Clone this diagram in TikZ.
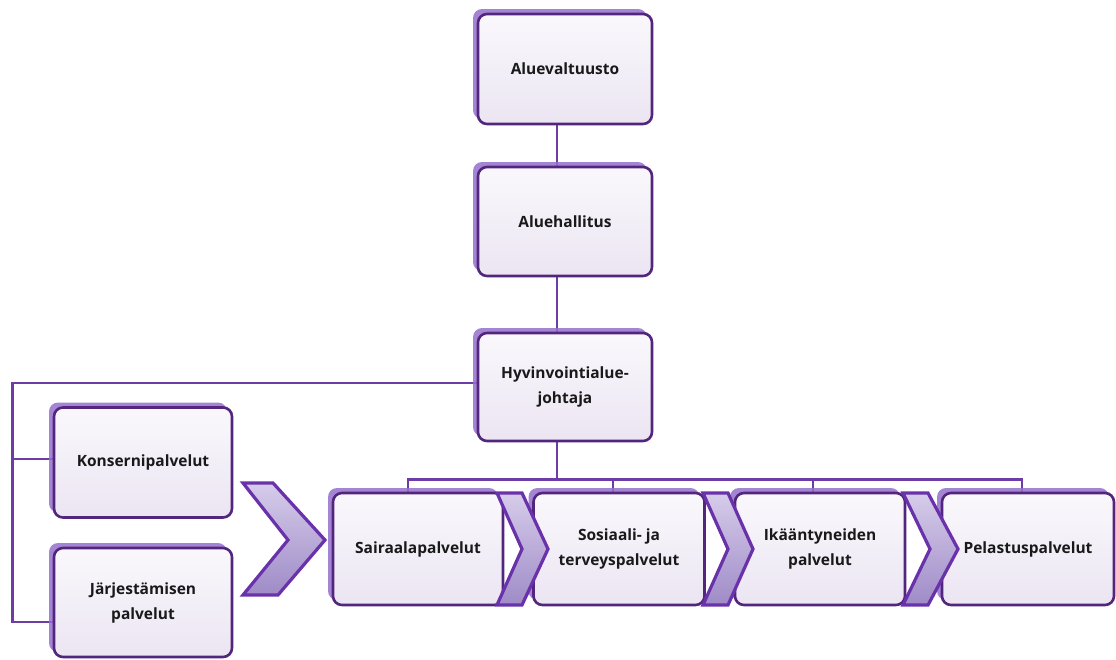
\documentclass[tikz,border=0pt]{standalone}
\usepackage{fontspec}
\setmainfont{Open Sans}
\usetikzlibrary{shadows,backgrounds}
\definecolor{edgecol}{HTML}{52267D}
\definecolor{linecol}{HTML}{6E3CA6}
\definecolor{shcol}{HTML}{9470CC}
\definecolor{filltop}{HTML}{FAF8FC}
\definecolor{fillbot}{HTML}{EBE5F2}
\definecolor{chevtop}{HTML}{D6CCEA}
\definecolor{chevbot}{HTML}{9F8BC7}
\definecolor{chevedge}{HTML}{6A32AA}
\tikzset{
  orgbox/.style={draw=edgecol, line width=2.6pt, rounded corners=9pt,
    top color=filltop, bottom color=fillbot, align=center,
    font=\fontsize{15.5pt}{25pt}\selectfont\bfseries, text=black!90,
    general shadow={fill=shcol, shadow xshift=-5pt, shadow yshift=5pt, opacity=0.85}},
  conn/.style={draw=linecol, line width=2.8pt},
  chev/.style={draw=chevedge, line width=3.2pt, line join=miter,
    top color=chevtop, bottom color=chevbot}
}
\begin{document}
\begin{tikzpicture}[x=1pt,y=-1pt]
\useasboundingbox (0,0) rectangle (1116,659);
\node[orgbox, minimum width=174pt, minimum height=110pt] (a) at (565,69) {Aluevaltuusto};
\node[orgbox, minimum width=174pt, minimum height=109pt] (b) at (565,221.5) {Aluehallitus};
\node[orgbox, minimum width=174pt, minimum height=108pt] (c) at (565,387) {Hyvinvointialue-\\johtaja};
\node[orgbox, minimum width=178pt, minimum height=110pt] (k) at (143,462.5) {Konsernipalvelut};
\node[orgbox, minimum width=178pt, minimum height=109pt] (j) at (143,602.5) {Järjestämisen\\palvelut};
\node[orgbox, minimum width=170pt, minimum height=112pt] (s1) at (418,549) {Sairaalapalvelut};
\node[orgbox, minimum width=171pt, minimum height=112pt] (s2) at (619,549) {Sosiaali- ja\\terveyspalvelut};
\node[orgbox, minimum width=170pt, minimum height=112pt] (s3) at (820,549) {Ikääntyneiden\\palvelut};
\node[orgbox, minimum width=172pt, minimum height=112pt] (s4) at (1028,549) {Pelastuspalvelut};
% chevrons on top
\path[chev] (243,483) -- (273,483) -- (325,540) -- (278,595) -- (243,595) -- (288,540) -- cycle;
\path[chev] (497,493) -- (522,493) -- (548,549) -- (522,605) -- (497,605) -- (522,549) -- cycle;
\path[chev] (703,493) -- (728,493) -- (753,549) -- (728,605) -- (703,605) -- (728,549) -- cycle;
\path[chev] (903,493) -- (928,493) -- (958,549) -- (928,605) -- (903,605) -- (930,549) -- cycle;
% connectors behind boxes
\begin{scope}[on background layer]
\draw[conn] ([xshift=-8pt]a.south) -- ([xshift=-8pt]b.north);
\draw[conn] ([xshift=-8pt]b.south) -- ([xshift=-8pt]c.north);
\draw[conn] ([xshift=-8pt]c.south) -- ([xshift=-8pt,yshift=-37pt]c.south) coordinate (jn);
\draw[conn] ([xshift=-10pt]s1.north) |- (jn);
\draw[conn] ([xshift=-6pt]s2.north) |- (jn);
\draw[conn] ([xshift=-7pt]s3.north) |- (jn);
\draw[conn] ([xshift=-6pt]s4.north) |- (jn);
\draw[conn] ([yshift=4pt]c.west) -| ([xshift=-40pt,yshift=-19.5pt]j.west) -- ([yshift=-19.5pt]j.west);
\draw[conn] ([yshift=3.5pt]k.west) -- ([xshift=-40pt,yshift=3.5pt]k.west);
\end{scope}
\end{tikzpicture}
\end{document}
